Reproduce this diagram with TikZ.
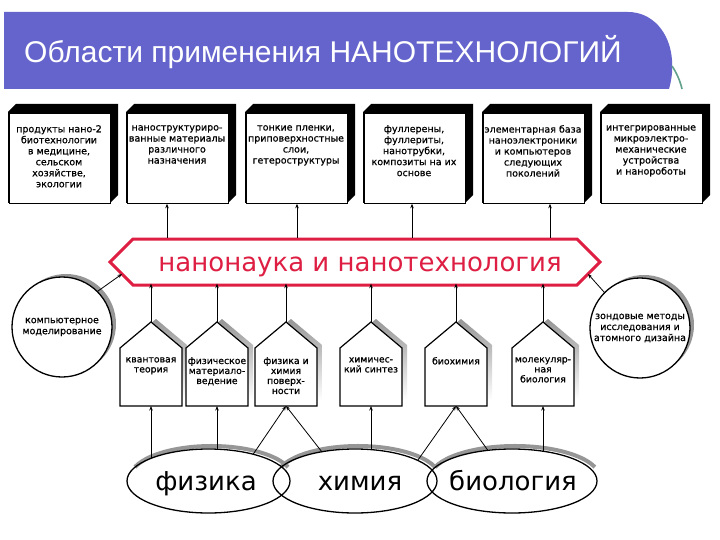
\documentclass[tikz,border=0pt]{standalone}
\usepackage{fontspec}
\setmainfont{DejaVu Sans}
\newfontfamily\titlefont{Liberation Sans}
\newfontfamily\smallfont[FakeBold=0.6]{DejaVu Sans}
\usetikzlibrary{arrows.meta,shapes.geometric}
\definecolor{titleblue}{RGB}{100,100,204}
\definecolor{bannerred}{RGB}{222,30,66}
\definecolor{accentgreen}{RGB}{96,160,140}
\definecolor{shadowgray}{RGB}{150,150,150}
\tikzset{
  arr/.style={-{Stealth[length=4.5pt,width=3.5pt]}, line width=0.8pt},
  boxtext/.style={font=\smallfont\fontsize{9.5}{11}\selectfont, align=center, inner sep=0pt, anchor=north},
  housetext/.style={font=\smallfont\fontsize{9.3}{10}\selectfont, align=center, inner sep=0pt, anchor=north},
  bigtext/.style={font=\fontsize{26}{30}\selectfont, inner sep=0pt, anchor=base},
  bubble/.style={circle, draw, line width=1.3pt, fill=white, minimum size=100pt, inner sep=0pt, align=center, font=\smallfont\fontsize{9.5}{11}\selectfont},
  field/.style={ellipse, draw, line width=1.3pt, minimum height=64pt, inner sep=0pt},
  fieldshadow/.style={shadowgray, line width=4pt},
}
\newcommand\topbox[3]{%
  \fill[black] (#2,112) -- (#2+8,104) -- (#2+110,104) -- (#2+110,195) -- (#2+102,203) -- (#2,203) -- cycle;
  \node[draw, fill=white, line width=1.2pt, minimum width=101pt, minimum height=90pt, inner sep=0pt, anchor=north west] (#1) at (#2+0.6,112.6) {};
  \node[boxtext] (#1t) at (#2+51,125) {#3};
}
\newcommand\house[3]{%
  \shade[top color=shadowgray, bottom color=white] (#2+5,400) -- (#2+5,345) -- (#2+36,319) -- (#2+67,345) -- (#2+67,400) -- cycle;
  \draw[fill=white, line width=1.2pt] (#2,406) -- (#2,348) -- (#2+31,322) -- (#2+62,348) -- (#2+62,406) -- cycle;
  \coordinate (#1-top) at (#2+31,322);
  \coordinate (#1-bot) at (#2+31,406);
  \node[housetext] (#1) at (#2+31,357) {#3};
}
\begin{document}
\begin{tikzpicture}[x=1pt,y=-1pt]
\useasboundingbox (0,0) rectangle (720,540);
\fill[white] (0,0) rectangle (720,540);
% title bar
\fill[titleblue] (4,12) -- (628,12) .. controls (652,12) and (670,32) .. (672,60) .. controls (673,72) and (671,82) .. (669,89) -- (4,89) -- cycle;
\draw[accentgreen, line width=1.6pt] (672,66) .. controls (676,72) and (680,80) .. (682,89);
\node[anchor=west, text=white, font=\titlefont\fontsize{30}{34}\selectfont, inner sep=0pt] (title) at (24,52) {Области применения НАНОТЕХНОЛОГИЙ};
% top boxes
\topbox{b1}{8}{продукты нано-2\\биотехнологии\\в медицине,\\сельском\\хозяйстве,\\экологии}
\topbox{b2}{126}{наноструктуриро-\\ванные материалы\\различного\\назначения}
\topbox{b3}{245}{тонкие пленки,\\приповерхностные\\слои,\\гетероструктуры}
\topbox{b4}{363}{фуллерены,\\фуллериты,\\нанотрубки,\\композиты на их\\основе}
\topbox{b5}{482}{элементарная база\\наноэлектроники\\и компьютеров\\следующих\\поколений}
\topbox{b6}{600}{интегрированные\\микроэлектро-\\механические\\устройства\\и нанороботы}
% banner
\draw[bannerred, line width=3pt, fill=white] (110,262) -- (133,239) -- (577,239) -- (600,262) -- (577,285) -- (133,285) -- cycle;
\node[inner sep=0pt, minimum width=444pt, minimum height=46pt] (banner) at (355,262) {};
\node[bigtext, text=bannerred] (bannertext) at (360,271) {нанонаука и нанотехнология};
% arrows banner -> top boxes
\coordinate (u2) at (167,237.5);
\coordinate (u3) at (297,237.5);
\coordinate (u4) at (412,237.5);
\coordinate (u5) at (550,237.5);
\draw[arr] (u2) -- (u2 |- b2.south);
\draw[arr] (u3) -- (u3 |- b3.south);
\draw[arr] (u4) -- (u4 |- b4.south);
\draw[arr] (u5) -- (u5 |- b5.south);
% side circles
\fill[shadowgray] (66,324) circle[radius=50];
\node[bubble] (c1) at (62,327) {компьютерное\\моделирование};
\fill[shadowgray] (644,325) circle[radius=50];
\node[bubble] (c2) at (640,328) {зондовые методы\\исследования и\\атомного дизайна};
\coordinate (bl) at (122,274);
\coordinate (br) at (588,274);
\draw[arr] (c1.north east) -- (bl);
\draw[arr] (c2.north west) -- (br);
% houses
\house{h1}{120}{квантовая\\теория}
\house{h2}{186}{физическое\\материало-\\ведение}
\house{h3}{255}{физика и\\химия\\поверх-\\ности}
\house{h4}{340}{химичес-\\кий синтез}
\house{h5}{425}{биохимия}
\house{h6}{512}{молекуляр-\\ная\\биология}
\foreach \h in {h1,h2,h3,h4,h5,h6}{
  \draw[arr, shorten >=-1.5pt] (\h-top) -- (\h-top |- banner.south);
}
% ellipses
\draw[fieldshadow] (211.5,478) ++(200:81.5 and 32) arc[start angle=200, end angle=340, x radius=81.5, y radius=32];
\draw[fieldshadow] (358,478) ++(200:82 and 32) arc[start angle=200, end angle=340, x radius=82, y radius=32];
\draw[fieldshadow] (515,478) ++(200:85 and 32) arc[start angle=200, end angle=340, x radius=85, y radius=32];
\node[field, minimum width=163pt] (e1) at (208.5,481) {};
\node[field, minimum width=164pt] (e2) at (355,481) {};
\node[field, minimum width=170pt] (e3) at (512,481) {};
\node[bigtext] (t1) at (206,490) {физика};
\node[bigtext] (t2) at (360,490) {химия};
\node[bigtext] (t3) at (513,490) {биология};
% connectors ellipses -> houses
\coordinate (p1) at (151,458);
\coordinate (p2) at (217,449.5);
\coordinate (p3a) at (253,454.5);
\coordinate (p3b) at (322,452);
\coordinate (p4) at (371,449.5);
\coordinate (p5a) at (418,460);
\coordinate (p5b) at (488,450.5);
\coordinate (p6) at (543,451.5);
\draw[arr] (p1) -- (h1-bot);
\draw[arr] (p2) -- (h2-bot);
\draw[arr] (p3a) -- (h3-bot);
\draw[arr] (p3b) -- (h3-bot);
\draw[arr] (p4) -- (h4-bot);
\draw[arr] (p5a) -- (h5-bot);
\draw[arr] (p5b) -- (h5-bot);
\draw[arr] (p6) -- (h6-bot);
\end{tikzpicture}
\end{document}
